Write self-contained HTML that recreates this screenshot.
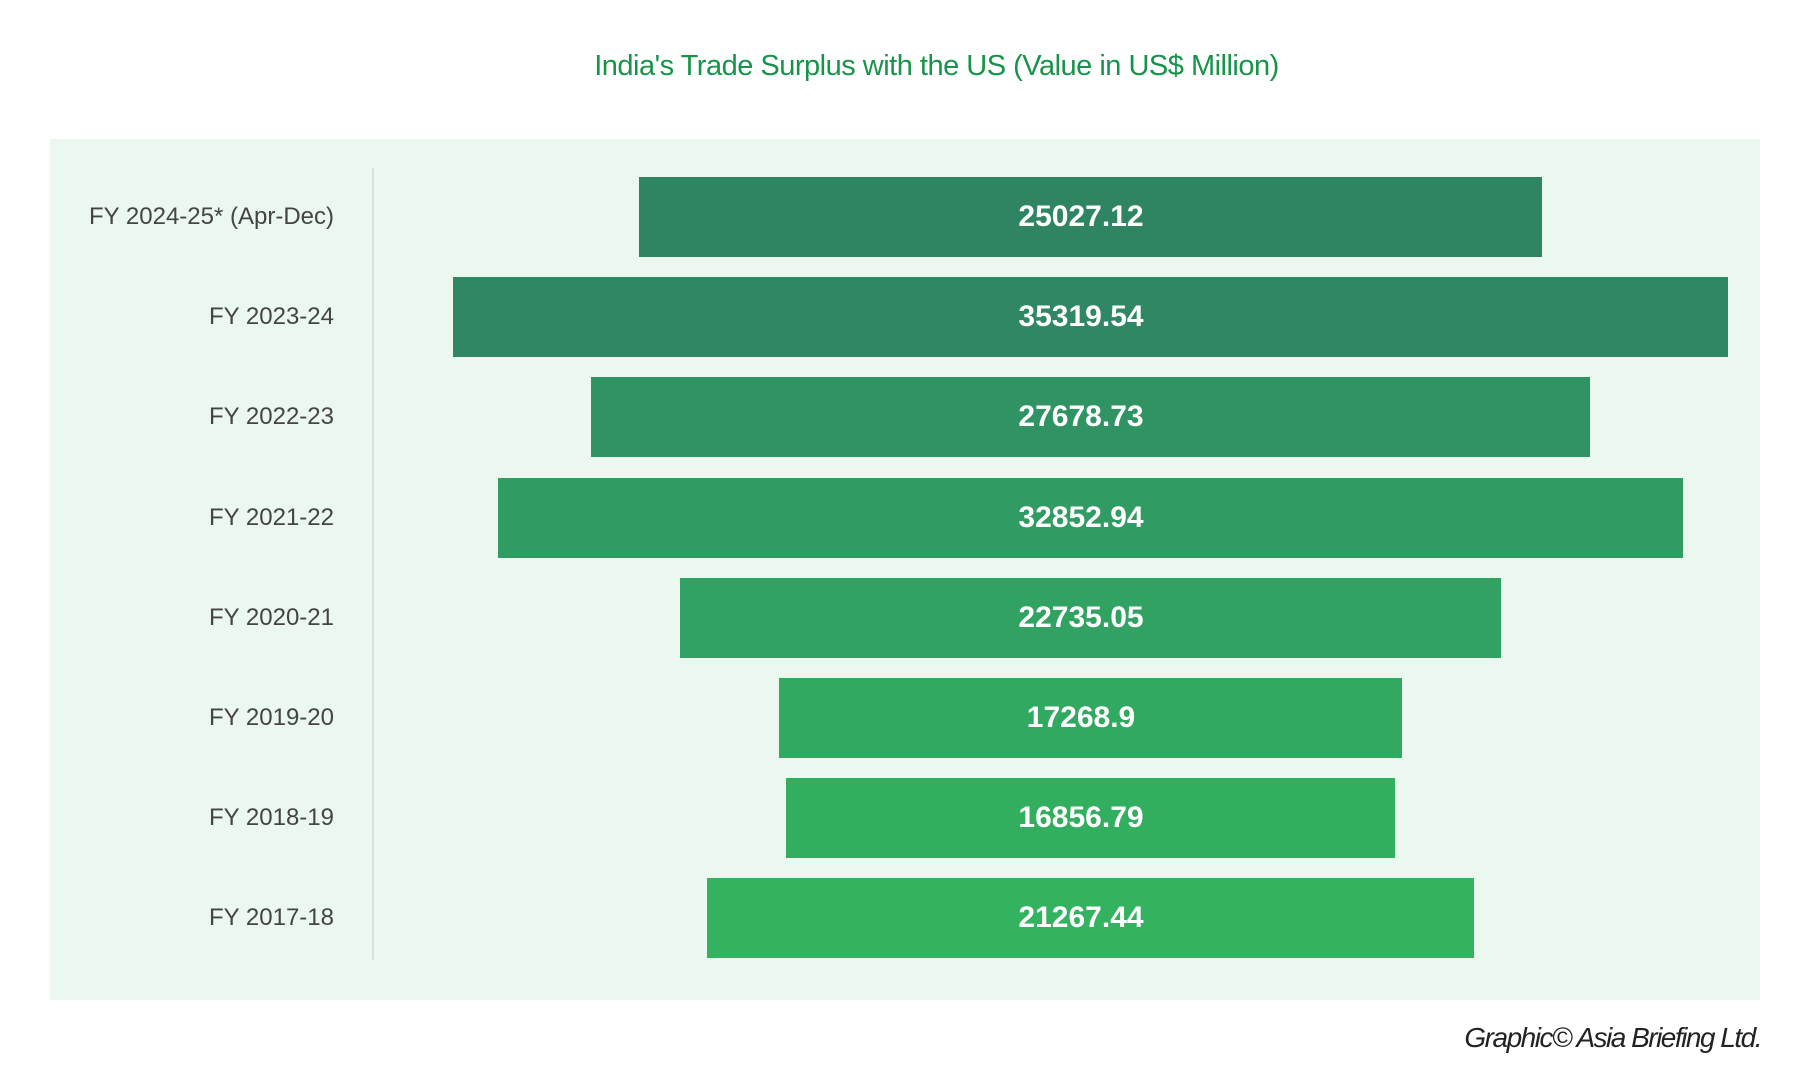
<!DOCTYPE html>
<html><head><meta charset="utf-8"><style>
html,body{margin:0;padding:0;background:#fff;}
#root{position:relative;width:1803px;height:1080px;overflow:hidden;font-family:"Liberation Sans",sans-serif;}
#title{position:absolute;left:0;width:1873px;top:50px;text-align:center;font-size:29px;color:#17944a;letter-spacing:-0.5px;}
#panel{position:absolute;left:50px;top:139px;width:1710px;height:861px;background:#ebf8f0;}
#divider{position:absolute;left:372px;top:168px;width:2px;height:792px;background:#d6e2da;}
.lbl{position:absolute;right:1469px;font-size:24px;color:#444;white-space:nowrap;transform:translateY(-50%);}
.bar{position:absolute;height:80px;}
.val{position:absolute;left:1081px;transform:translate(-50%,-50%);font-size:30px;font-weight:bold;color:#fff;white-space:nowrap;}
#credit{position:absolute;right:42px;top:1022px;font-size:28px;font-style:italic;color:#222;letter-spacing:-1.5px;}
</style></head><body>
<div id="root">
<div id="title">India's Trade Surplus with the US (Value in US$ Million)</div>
<div id="panel"></div>
<div id="divider"></div>
<div id="credit">Graphic© Asia Briefing Ltd.</div>
</div>
<script>
const categories = ["FY 2024-25* (Apr-Dec)","FY 2023-24","FY 2022-23","FY 2021-22","FY 2020-21","FY 2019-20","FY 2018-19","FY 2017-18"];
const values = [25027.12,35319.54,27678.73,32852.94,22735.05,17268.9,16856.79,21267.44];
const barColors = ["#2f8462","#2f8863","#309363","#309b62","#31a261","#31a960","#32ae5f","#33b35f"];
const valueLabels = ["25027.12","35319.54","27678.73","32852.94","22735.05","17268.9","16856.79","21267.44"];
const centerX = 1090.5, pxPerUnit = 1275/35319.54, firstTop = 177, step = 100.2, barH = 80;
function xScale(v){ return v*pxPerUnit; }
function yScale(i){ return firstTop + i*step; }
const root = document.getElementById('root');
categories.forEach((c,i)=>{
  const w = xScale(values[i]), y = yScale(i);
  const bar = document.createElement('div');
  bar.className='bar';
  
  
  bar.style.left=(centerX-w/2)+'px'; bar.style.width=w+'px'; bar.style.top=y+'px'; bar.style.background=barColors[i];
  root.appendChild(bar);
  const lbl = document.createElement('div');
  lbl.className='lbl';
  
  
  lbl.style.top=(y+barH/2)+'px'; lbl.textContent=c;
  root.appendChild(lbl);
  const val = document.createElement('div');
  val.className='val';
  
  
  val.style.top=(y+barH/2)+'px'; val.textContent=valueLabels[i];
  root.appendChild(val);
});
</script>
</body></html>
